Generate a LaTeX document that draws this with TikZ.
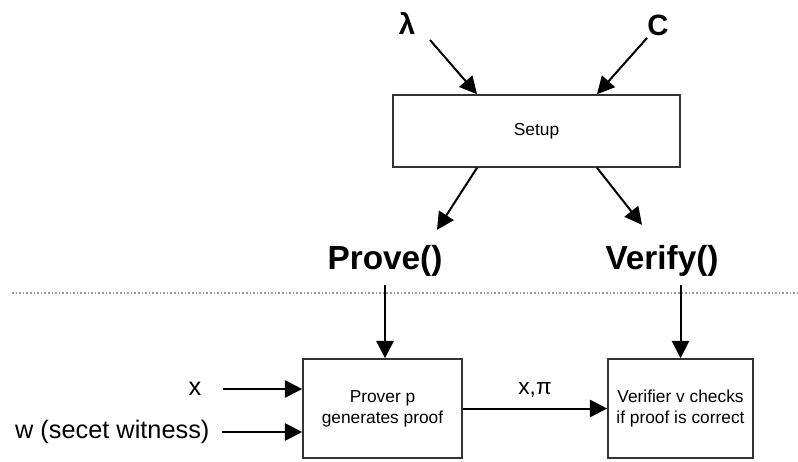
\documentclass[tikz,border=0pt]{standalone}
\usepackage{fontspec}
\setmainfont{Liberation Sans}
\usetikzlibrary{arrows.meta, positioning}
\definecolor{BoxLine}{HTML}{333333}
\definecolor{SepDots}{HTML}{9A9A9A}

\begin{document}
\begin{tikzpicture}[x=0.75pt, y=-0.75pt,
  procbox/.style={draw=BoxLine, line width=1.2pt, inner sep=0pt, align=center, font=\fontsize{13}{15.5}\selectfont},
  flow/.style={-{Triangle[length=13pt, width=13pt]}, line width=1.5pt},
  callname/.style={font=\fontsize{25}{30}\selectfont\bfseries, inner sep=1pt},
  param/.style={font=\fontsize{22}{26}\selectfont\bfseries, inner sep=1pt},
  inlabel/.style={font=\fontsize{19}{22}\selectfont, inner sep=1pt}]
  \useasboundingbox (0,0) rectangle (798,461);

  % setup phase
  \node[param] (lam) at (407,23) {λ};
  \node[param] (circ) at (658,25) {C};
  \node[procbox, minimum width=215.25pt, minimum height=54pt] (setup) at (536.5,131) {Setup};
  \node[callname] (prove) at (385,261) {Prove()};
  \node[callname] (verify) at (662,261) {Verify()};

  \draw[flow] ([shift={(23,17)}]lam.center) -- ([shift={(-59.5,0)}]setup.north);
  \draw[flow] ([shift={(-11,13)}]circ.center) -- ([shift={(60.5,0)}]setup.north);
  \draw[flow] ([shift={(-59.5,0)}]setup.south) -- ([shift={(52,-14)}]prove.north);
  \draw[flow] ([shift={(60.5,0)}]setup.south) -- ([shift={(-20,-19)}]verify.north);

  \draw[SepDots, line width=1.2pt, dash pattern=on 1.2pt off 1.5pt] (12,293) -- (798,293);

  % proving and verifying
  \node[procbox, minimum width=119.25pt, minimum height=74.25pt] (prover) at (382.5,408.5) {Prover p\\generates proof};
  \node[procbox, minimum width=108.75pt, minimum height=74.25pt] (verifier) at (680.5,408.5) {Verifier v checks\\if proof is correct};
  \node[inlabel, anchor=east] (xin) at (203,389) {x};
  \node[inlabel, anchor=east] (win) at (211,432) {w (secet witness)};

  \draw[flow, shorten <=5.25pt] (prove.south) -- (prove.south |- prover.north);
  \draw[flow, shorten <=5.25pt] (verify.south -| verifier.north) -- (verifier.north);
  \draw[flow] ([shift={(20,0)}]xin.east) -- (xin.east -| prover.west);
  \draw[flow] ([shift={(11,0)}]win.east) -- (win.east -| prover.west);
  \draw[flow] (prover) -- node[above=4pt, font=\fontsize{17}{20}\selectfont] (msg) {x,π} (verifier);
\end{tikzpicture}
\end{document}
